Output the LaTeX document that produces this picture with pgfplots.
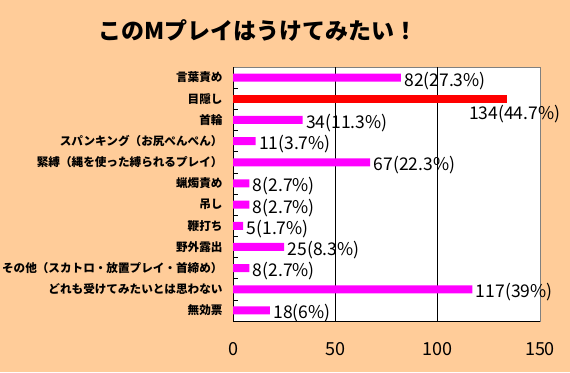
\documentclass[border=0pt]{standalone}
\usepackage{fontspec}
\setmainfont{Noto Sans CJK JP}
\usepackage{pgfplots}
\pgfplotsset{compat=1.18}
\definecolor{peach}{HTML}{FFCC99}
\definecolor{mag}{HTML}{FF00FF}
\begin{document}
\begin{tikzpicture}
\useasboundingbox (0pt,0pt) rectangle (570pt,372pt);
\fill[peach] (0pt,0pt) rectangle (570pt,372pt);
\node[font=\bfseries\fontsize{23}{26}\selectfont] at (258pt,341pt) {このMプレイはうけてみたい！};
\begin{axis}[
 at={(233pt,51pt)}, anchor=south west,
 scale only axis, width=307pt, height=254pt,
 xmin=0, xmax=150, ymin=-0.5, ymax=11.5, y dir=reverse,
 xbar, bar width=8pt, bar shift=0pt,
 clip=false,
 axis background/.style={fill=white, draw=gray},
 axis lines=left, axis line style={-, black, line width=0.8pt},
 xtick={50,100}, extra x ticks={0,150}, extra x tick style={grid=none},
 xmajorgrids, grid style={black, line width=0.8pt},
 ytick={0,...,11},
 yticklabels={言葉責め,目隠し,首輪,スパンキング（お尻ぺんぺん）,緊縛（縄を使った縛られるプレイ）,蝋燭責め,吊し,鞭打ち,野外露出,その他（スカトロ・放置プレイ・首締め）,どれも受けてみたいとは思わない,無効票},
 minor ytick={0.5,1.5,...,10.5},
 major tick length=0pt, minor tick length=5pt, tick align=inside,
 tick style={black, line width=0.6pt},
 /pgf/number format/assume math mode=true,
 yticklabel style={font=\bfseries\fontsize{11.6}{13}\selectfont, xshift=-7pt},
 xticklabel style={font=\fontsize{18}{20}\selectfont, yshift=-18pt},
 point meta=explicit symbolic,
]
\addplot[fill=mag, draw=none, nodes near coords,
  every node near coord/.append style={font=\fontsize{17.5}{19}\selectfont, anchor=west, yshift=-3pt, text=black}]
 coordinates {(82,0)[82(27.3\%)] (34,2)[34(11.3\%)] (11,3)[11(3.7\%)] (67,4)[67(22.3\%)] (8,5)[8(2.7\%)] (8,6)[8(2.7\%)] (5,7)[5(1.7\%)] (25,8)[25(8.3\%)] (8,9)[8(2.7\%)] (117,10)[117(39\%)] (18,11)[18(6\%)]};
\addplot[fill=red, draw=none, nodes near coords,
  every node near coord/.append style={font=\fontsize{17.5}{19}\selectfont, anchor=west, xshift=-41.6pt, yshift=-15pt, text=black}]
 coordinates {(134,1)[134(44.7\%)]};
\end{axis}
\end{tikzpicture}
\end{document}
